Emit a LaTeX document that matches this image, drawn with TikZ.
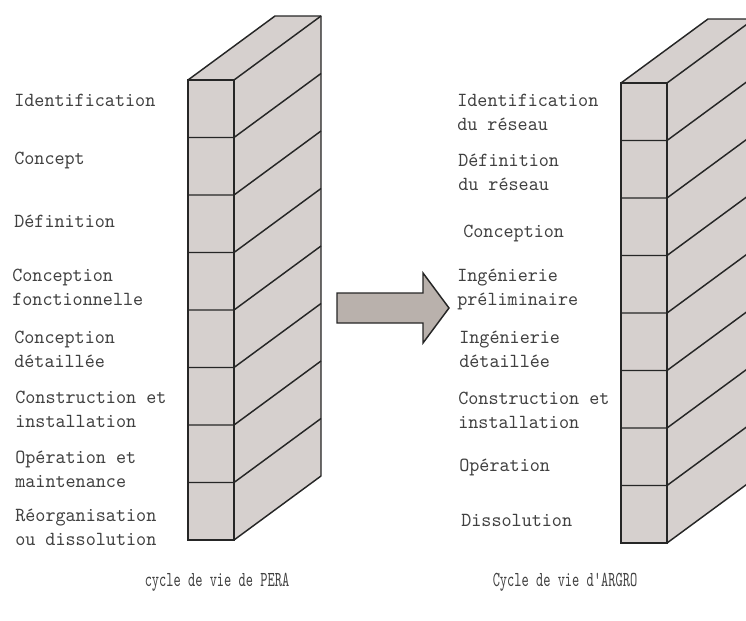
\documentclass[tikz,border=0pt]{standalone}
\usepackage{fontspec}
\usepackage{xcolor}
\usetikzlibrary{positioning}

\newfontfamily\stagefont[FakeStretch=0.96, Ligatures=TeXOff]{lmmono10-regular.otf}
\newfontfamily\legendfont[FakeStretch=0.645, Ligatures=TeXOff]{lmmono10-regular.otf}
\definecolor{wallgray}{RGB}{214,208,206}
\definecolor{arrowgray}{RGB}{185,177,172}

\begin{document}
\begin{tikzpicture}[
    x=0.75pt,
    y=-0.75pt,
    every node/.style={
        inner sep=0pt,
        text=black!75
    },
    stage/.style={
        font=\stagefont\fontsize{15}{18}\selectfont,
        align=left,
        anchor=west
    },
    legend/.style={
        font=\legendfont\fontsize{16}{19}\selectfont
    },
    wall/.style={
        fill=wallgray,
        draw=black!85,
        line width=1.1pt,
        line join=round
    },
    brick/.style={
        draw=black!85,
        line width=1.1pt
    },
    bigarrow/.style={
        fill=arrowgray,
        draw=black!85,
        line width=1.1pt
    }
]

\clip (0,0) rectangle (746,621);

% the two walls
\foreach \wx/\wy in {188/80, 621/83} {
    \begin{scope}[shift={(\wx,\wy)}]
        \filldraw[wall] (0,0) -- (87,-64) -- (133,-64) -- (133,396)
            -- (46,460) -- (0,460) -- cycle;
        \draw[brick] (0,0) rectangle (46,460);
        \draw[brick] (46,0) -- (133,-64);
        \foreach \i in {1,...,7}
            \draw[brick] (0,57.5*\i) -- (46,57.5*\i) -- (133,57.5*\i-64);
    \end{scope}
}

% arrow between the walls
\filldraw[bigarrow] (337,293) -- (423,293) -- (423,273) -- (449,308)
    -- (423,343) -- (423,323) -- (337,323) -- cycle;

% PERA phases
\node[stage] (identPera) at (14,100) {Identification};
\node[stage] (conceptPera) at (14,160) {Concept};
\node[stage] (defPera) at (14,221) {Définition};
\node[stage] (foncPera) at (12,287.5) {Conception\\fonctionnelle};
\node[stage] (detPera) at (14,349.5) {Conception\\détaillée};
\node[stage] (constPera) at (15,409.5) {Construction et\\installation};
\node[stage] (opPera) at (15,469.5) {Opération et\\maintenance};
\node[stage] (reorgPera) at (15,527) {Réorganisation\\ou dissolution};

% ARGRO phases
\node[stage] (identArgro) at (457,112) {Identification\\du réseau};
\node[stage] (defArgro) at (458,172) {Définition\\du réseau};
\node[stage] (concArgro) at (463,233) {Conception};
\node[stage] (prelimArgro) at (457,289) {Ingénierie\\préliminaire};
\node[stage] (detArgro) at (459,349) {Ingénierie\\détaillée};
\node[stage] (constArgro) at (458,410) {Construction et\\installation};
\node[stage] (opArgro) at (459,467) {Opération};
\node[stage] (dissArgro) at (461,520) {Dissolution};

% legends
\node[legend] (peraLegend) at (217,582) {cycle de vie de PERA};
\node[legend] (argroLegend) at (565,582) {Cycle de vie d'ARGRO};

\end{tikzpicture}
\end{document}
